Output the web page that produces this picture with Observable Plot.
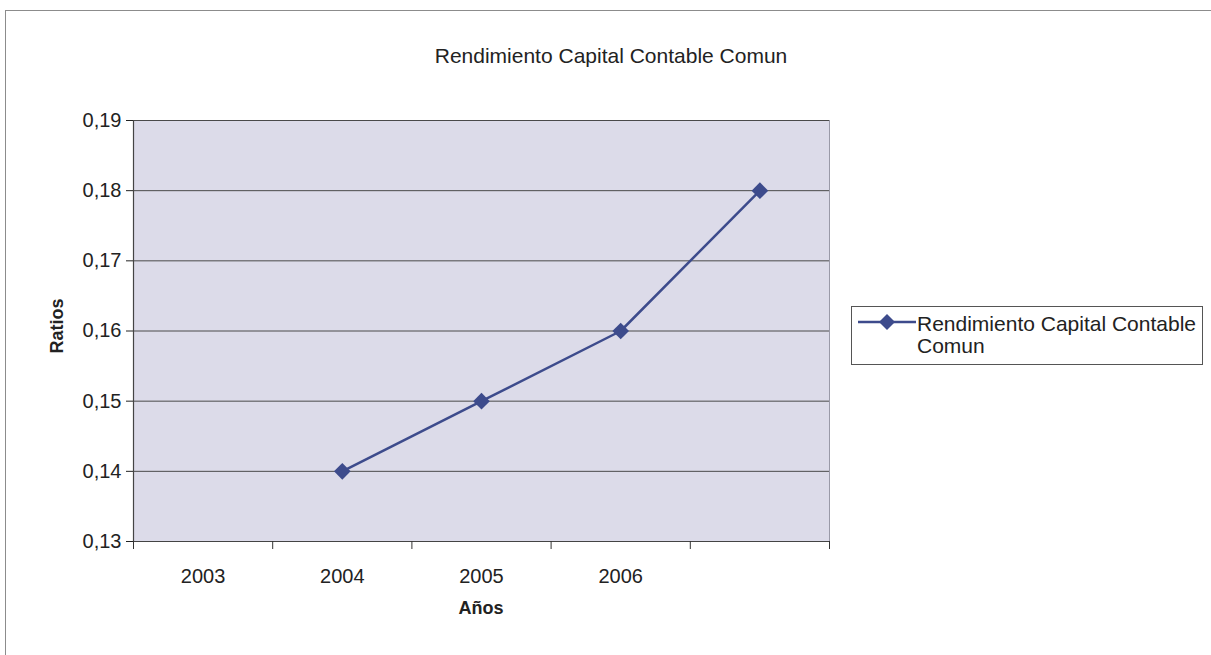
<!DOCTYPE html>
<html><head><meta charset="utf-8">
<script src="https://cdn.jsdelivr.net/npm/d3@7"></script>
<script src="https://cdn.jsdelivr.net/npm/@observablehq/plot@0.6"></script>
<style>
body{margin:0;background:#fff;font-family:"Liberation Sans",Arial,sans-serif;}
#wrap{position:relative;width:1211px;height:655px;overflow:hidden;}
#border{position:absolute;left:5px;top:10px;width:1230px;height:700px;border:1px solid #8c8c8c;box-sizing:border-box;}
#chart{position:absolute;left:0;top:0;}
#chart svg text{font-size:20px !important;}
#title{position:absolute;top:44px;left:0;width:1222px;text-align:center;font-size:21px;color:#222;}
#ylab{position:absolute;left:57px;top:326px;transform:translate(-50%,-50%) rotate(-90deg);font-size:18px;font-weight:bold;color:#222;white-space:nowrap;}
#xlab{position:absolute;left:481px;top:608px;transform:translate(-50%,-50%);font-size:18px;font-weight:bold;color:#222;}
#legend{position:absolute;left:851px;top:306px;width:352px;height:59px;border:1px solid #555;box-sizing:border-box;background:#fff;}
#legend svg{position:absolute;left:6px;top:3px;}
#legend .txt{position:absolute;left:65px;top:6px;font-size:21px;line-height:22px;color:#222;white-space:nowrap;}
</style>
</head><body>
<div id="wrap">
  <div id="border"></div>
  <div id="chart"></div>
  <div id="title"></div>
  <div id="ylab"></div>
  <div id="xlab"></div>
  <div id="legend"></div>
</div>
<script>
const categories = ["2003", "2004", "2005", "2006", ""];
const values = [null, 0.14, 0.15, 0.16, 0.18];
const seriesName = "Rendimiento Capital Contable Comun";
const yTicks = [0.13, 0.14, 0.15, 0.16, 0.17, 0.18, 0.19];
const titleText = "Rendimiento Capital Contable Comun";
const yTitle = "Ratios";
const xTitle = "Años";

const lineColor = "#3d4b8c";
const data = categories.map((c, i) => ({i, cat: c, value: values[i]})).filter(d => d.value != null);
const idx = d3.range(categories.length);
const bounds = d3.range(categories.length + 1).map(i => i - 0.5);
const yMin = d3.min(yTicks), yMax = d3.max(yTicks);

const chart = Plot.plot({
  width: 1211,
  height: 655,
  marginLeft: 133,
  marginRight: 382,
  marginTop: 120,
  marginBottom: 114,
  style: {fontFamily: "'Liberation Sans', Arial, sans-serif", fontSize: "20px", color: "#333", background: "transparent"},
  x: {type: "linear", domain: [bounds[0], bounds[bounds.length - 1]]},
  y: {domain: [yMin, yMax]},
  marks: [
    Plot.frame({fill: "#dcdbe9", stroke: "#9a9aa8"}),
    Plot.gridY(yTicks, {stroke: "#4a4a4a", strokeOpacity: 1, strokeWidth: 1}),
    Plot.ruleX([bounds[0]], {stroke: "#444", strokeWidth: 1.2}),
    Plot.ruleY([yMin], {stroke: "#444", strokeWidth: 1.2}),
    Plot.axisY({ticks: yTicks, tickFormat: d => d.toFixed(2).replace(".", ","), tickSize: 7, tickPadding: 5, label: null, fontSize: 20, color: "#222"}),
    Plot.axisX({ticks: bounds, tickFormat: () => "", tickSize: 8, label: null}),
    Plot.axisX({ticks: idx, tickFormat: i => categories[i], tickSize: 0, tickPadding: 27, label: null, fontSize: 20, color: "#222"}),
    Plot.line(data, {x: "i", y: "value", stroke: lineColor, strokeWidth: 2.5}),
    Plot.dot(data, {x: "i", y: "value", symbol: "diamond2", r: 7.5, fill: lineColor, stroke: "none"})
  ]
});
document.getElementById("chart").appendChild(chart);
document.getElementById("title").textContent = titleText;
document.getElementById("ylab").textContent = yTitle;
document.getElementById("xlab").textContent = xTitle;

const leg = document.getElementById("legend");
leg.innerHTML = `<svg width="60" height="24"><line x1="0" y1="12" x2="58" y2="12" stroke="${lineColor}" stroke-width="2.5"/><path d="M29,4L37,12L29,20L21,12Z" fill="${lineColor}"/></svg><div class="txt"></div>`;
leg.querySelector(".txt").innerHTML = "Rendimiento Capital Contable<br>Comun";
</script>
</body></html>
